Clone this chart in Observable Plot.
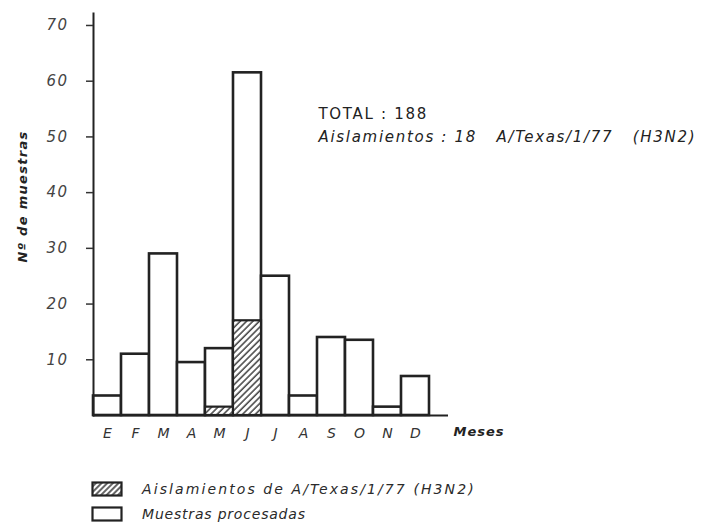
<!DOCTYPE html>
<html><head><meta charset="utf-8">
<script src="https://cdn.jsdelivr.net/npm/d3@7"></script>
<script src="https://cdn.jsdelivr.net/npm/@observablehq/plot@0.6"></script>
<style>
body{margin:0;background:#fff;font-family:"DejaVu Sans",sans-serif;}
#chart svg{display:block;}
#legend{position:relative;height:58px;font-family:"DejaVu Sans",sans-serif;font-style:italic;font-size:14px;color:#2a2a2a;}
.row{position:absolute;left:91px;display:flex;align-items:center;height:16px;}
.row svg{display:block;margin-right:18px;}
</style></head><body>
<div id="chart"></div>
<div id="legend"></div>
<script>
const monthKeys = ["Ene","Feb","Mar","Abr","May","Jun","Jul","Ago","Sep","Oct","Nov","Dic"];
const monthLabels = ["E","F","M","A","M","J","J","A","S","O","N","D"];
const muestras = [3.5, 11, 29, 9.5, 12, 61.5, 25, 3.5, 14, 13.5, 1.5, 7];
const aislamientos = [0, 0, 0, 0, 1.5, 17, 0, 0, 0, 0, 0, 0];
const yTicks = [10, 20, 30, 40, 50, 60, 70];
const annotations = ["TOTAL : 188", "Aislamientos : 18   A/Texas/1/77   (H3N2)"];
const legendLabels = ["Aislamientos de A/Texas/1/77 (H3N2)", "Muestras procesadas"];
const xLabel = "Meses";
const yLabel = "Nº de muestras";

const data = monthKeys.map((k, i) => ({month: k, label: monthLabels[i], total: muestras[i], iso: aislamientos[i]}));
const labelOf = new Map(data.map(d => [d.month, d.label]));
const ink = "#222";

const plot = Plot.plot({
  width: 702,
  height: 470,
  marginLeft: 93,
  marginRight: 254,
  marginTop: 13,
  marginBottom: 55,
  style: {fontFamily: "DejaVu Sans, sans-serif", fontSize: "13px", fontStyle: "italic", color: "#333", background: "white"},
  x: {domain: monthKeys, paddingInner: 0, paddingOuter: 0.19, align: 0},
  y: {domain: [0, 72.15]},
  marks: [
    Plot.barY(data, {x: "month", y: "total", fill: "white", stroke: ink, strokeWidth: 2.6, inset: 0}),
    Plot.barY(data.filter(d => d.iso > 0), {x: "month", y: "iso", fill: "url(#hatch)", stroke: ink, strokeWidth: 2.2, inset: 0}),
    Plot.ruleY([0], {stroke: ink, strokeWidth: 2}),
    Plot.frame({anchor: "left", stroke: ink, strokeWidth: 2}),
    Plot.axisY({ticks: yTicks, tickSize: 7, tickPadding: 18, label: null, strokeWidth: 1.5, fontSize: 15, fill: "#444"}),
    Plot.axisX({tickSize: 0, tickPadding: 13, label: null, tickFormat: d => labelOf.get(d), fontSize: 14, fill: "#333"}),
    Plot.text([xLabel], {frameAnchor: "bottom-right", textAnchor: "start", dx: 5, dy: 20, fontWeight: "bold", fontSize: 13, fill: "#222"}),
    Plot.text([yLabel], {frameAnchor: "left", textAnchor: "middle", rotate: -90, dx: -71, dy: -18, fontWeight: "bold", fontSize: 13, fill: "#222"}),
    Plot.text([annotations[0]], {frameAnchor: "top-left", textAnchor: "start", dx: 225, dy: 95, fill: "#222", fontSize: 15, fontStyle: "normal"}),
    Plot.text([annotations[1]], {frameAnchor: "top-left", textAnchor: "start", dx: 225, dy: 118, fill: "#222", fontSize: 15})
  ]
});

// hatch pattern definition
const svg = d3.select(plot);
const defs = svg.insert("defs", ":first-child");
const pat = defs.append("pattern").attr("id", "hatch").attr("patternUnits", "userSpaceOnUse")
  .attr("width", 4.5).attr("height", 4.5).attr("patternTransform", "rotate(45)");
pat.append("rect").attr("width", 4.5).attr("height", 4.5).attr("fill", "white");
pat.append("line").attr("x1", 1).attr("x2", 1).attr("y1", 0).attr("y2", 4.5).attr("stroke", "#333").attr("stroke-width", 1.4);
// lettering-style spacing and sizes
svg.selectAll("text").each(function() {
  const t = this.textContent;
  if (annotations.includes(t)) d3.select(this).style("letter-spacing", "1.7px");
  if (t === yLabel) d3.select(this).style("letter-spacing", "1.3px");
  if (t === xLabel) d3.select(this).style("letter-spacing", "1px");
  if (yTicks.map(String).includes(t)) d3.select(this).style("font-size", "15px").style("letter-spacing", "1.5px");
  if (monthLabels.includes(t)) d3.select(this).style("font-size", "14px");
});
document.getElementById("chart").appendChild(plot);

// legend
const legend = d3.select("#legend");
const tops = [11, 36];
const spacing = ["2.1px", "0.8px"];
legendLabels.forEach((t, i) => {
  const row = legend.append("div").attr("class", "row").style("top", tops[i] + "px");
  const s = row.append("svg").attr("width", 33).attr("height", 16);
  if (i === 0) {
    const d2 = s.append("defs").append("pattern").attr("id", "hatchL").attr("patternUnits", "userSpaceOnUse")
      .attr("width", 4).attr("height", 4).attr("patternTransform", "rotate(45)");
    d2.append("rect").attr("width", 4).attr("height", 4).attr("fill", "white");
    d2.append("line").attr("x1", 1).attr("x2", 1).attr("y1", 0).attr("y2", 4).attr("stroke", "#333").attr("stroke-width", 1.5);
  }
  s.append("rect").attr("x", 1.5).attr("y", 1.5).attr("width", 29).attr("height", 13)
    .attr("fill", i === 0 ? "url(#hatchL)" : "white").attr("stroke", ink).attr("stroke-width", 2.2);
  row.append("span").style("letter-spacing", spacing[i]).text(t);
});
</script>
</body></html>
